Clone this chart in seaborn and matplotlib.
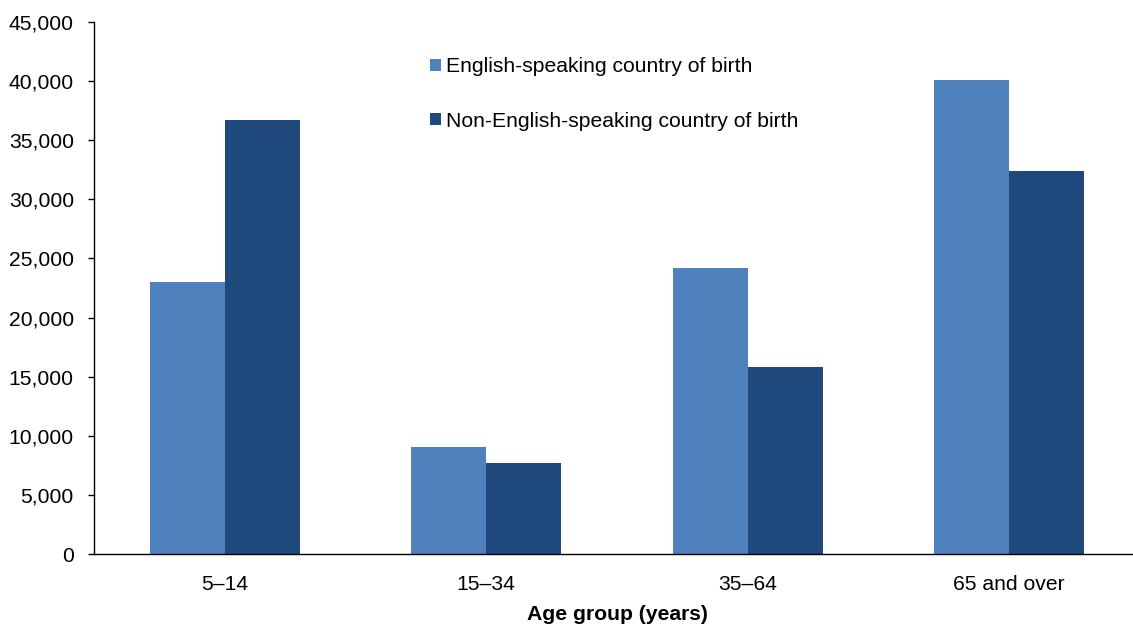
import matplotlib
matplotlib.use("Agg")
import matplotlib.pyplot as plt
import matplotlib.ticker as mticker
from matplotlib.patches import Patch
import seaborn as sns
import pandas as pd

categories = ["5–14", "15–34", "35–64", "65 and over"]
series_names = ["English-speaking country of birth", "Non-English-speaking country of birth"]
english = [23000, 9050, 24150, 40100]
non_english = [36700, 7700, 15850, 32400]
colors = ["#4F81BD", "#1F497D"]
y_ticks = [0, 5000, 10000, 15000, 20000, 25000, 30000, 35000, 40000, 45000]

df = pd.DataFrame({
    "Age": categories * 2,
    "Series": [series_names[0]] * 4 + [series_names[1]] * 4,
    "Value": english + non_english,
})

sns.set_theme(style="white")
plt.rcParams["font.family"] = ["Liberation Sans", "DejaVu Sans"]

FS = 15.2
W, H = 1133, 626
fig = plt.figure(figsize=(W / 100, H / 100), dpi=100)
ax = fig.add_axes([94 / W, 72 / H, 1046 / W, 532 / H])

sns.barplot(data=df, x="Age", y="Value", hue="Series", order=categories,
            hue_order=series_names, palette=colors, width=0.574,
            saturation=1, errorbar=None, legend=False, linewidth=0, ax=ax)

ax.set_xlim(-0.5, 3.5)
ax.set_ylim(0, 45000)
ax.set_yticks(y_ticks)
ax.yaxis.set_major_formatter(mticker.FuncFormatter(lambda v, p: f"{int(v):,}"))
for s in ["top", "right"]:
    ax.spines[s].set_visible(False)
for s in ["left", "bottom"]:
    ax.spines[s].set_color("black")
    ax.spines[s].set_linewidth(1.0)
ax.tick_params(axis="y", which="major", left=True, length=4.5, width=1, color="black",
               pad=10, labelsize=FS, labelcolor="black")
ax.tick_params(axis="x", which="major", bottom=False, length=0, pad=15, labelsize=FS,
               labelcolor="black")
ax.set_ylabel("")
ax.set_xlabel("Age group (years)", fontsize=FS, fontweight="bold", color="black")
ax.xaxis.set_label_coords(0.5, -0.113)
ax.xaxis.label.set_va("center")

handles = [Patch(facecolor=c, edgecolor="none") for c in colors]
leg = ax.legend(handles, series_names, loc="center left",
                bbox_to_anchor=((430 - 94) / 1046, (626 - 94 - 72) / 532),
                frameon=False, fontsize=FS, handlelength=0.5, handleheight=0.5,
                handletextpad=0.28, labelspacing=1.68, borderpad=0, borderaxespad=0)
for t in leg.get_texts():
    t.set_color("black")

fig.savefig("out.png", dpi=100)
